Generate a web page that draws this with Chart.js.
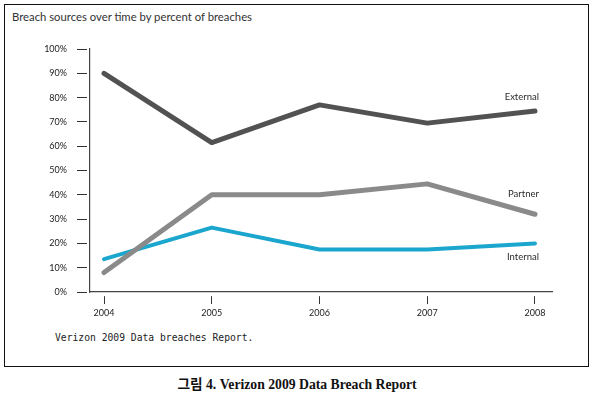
<!DOCTYPE html>
<html><head><meta charset="utf-8">
<script src="https://cdn.jsdelivr.net/npm/chart.js@4"></script>
<style>
html,body{margin:0;padding:0;background:#fff;width:594px;height:394px;overflow:hidden;}
#box{position:absolute;left:4px;top:4px;width:583px;height:361px;border:1.5px solid #111;}
#title{position:absolute;left:12px;top:10px;font:11.3px Lato,sans-serif;color:#333;white-space:nowrap;}
#src{position:absolute;left:55px;top:332px;font:9.7px "DejaVu Sans Mono",monospace;color:#222;white-space:pre;}
#cap{position:absolute;left:0;width:594px;top:373px;text-align:center;font:bold 13.7px "Liberation Serif","Noto Sans CJK KR",serif;color:#111;}
#wrap{position:absolute;left:0;top:0;width:594px;height:394px;}
</style></head>
<body>
<div id="box"></div>
<div id="title">Breach sources over time by percent of breaches</div>
<div id="src">Verizon 2009 Data breaches Report.</div>
<div id="cap">그림 4. Verizon 2009 Data Breach Report</div>
<div id="wrap"><canvas id="c" width="594" height="394"></canvas></div>
<script>
const years = [2004, 2005, 2006, 2007, 2008];
const yearLabels = ["2004", "2005", "2006", "2007", "2008"];
const seriesNames = ["External", "Partner", "Internal"];
const external = [90, 61.5, 77, 69.5, 74.5];
const partner = [8, 40, 40, 44.5, 32];
const internal = [13.5, 26.5, 17.5, 17.5, 20];
const yTicks = [0,10,20,30,40,50,60,70,80,90,100];
const yTickLabels = ["0%","10%","20%","30%","40%","50%","60%","70%","80%","90%","100%"];

const toPts = arr => arr.map((v,i)=>({x:years[i], y:v}));
const labelOffsets = {External:-14, Partner:-20, Internal:14};

const endLabels = {
  id:'endLabels',
  afterDatasetsDraw(chart){
    const ctx = chart.ctx;
    ctx.save();
    ctx.font = '9.5px Lato, sans-serif';
    ctx.fillStyle = '#2a2a2a';
    ctx.textAlign = 'right';
    ctx.textBaseline = 'middle';
    chart.data.datasets.forEach((ds,i)=>{
      const meta = chart.getDatasetMeta(i);
      const last = meta.data[meta.data.length-1];
      ctx.fillText(ds.label, last.x + 4, last.y + labelOffsets[ds.label]);
    });
    ctx.restore();
  }
};

new Chart(document.getElementById('c'), {
  type:'line',
  data:{
    datasets:[
      {label:seriesNames[0], data:toPts(external), borderColor:'#525252', borderWidth:5},
      {label:seriesNames[1], data:toPts(partner), borderColor:'#8a8a8a', borderWidth:5},
      {label:seriesNames[2], data:toPts(internal), borderColor:'#1ba6cd', borderWidth:4}
    ]
  },
  options:{
    responsive:false,
    animation:false,
    events:[],
    elements:{point:{radius:0}, line:{tension:0, borderCapStyle:'round', borderJoinStyle:'round'}},
    layout:{padding:{left:0, top:49, right:42, bottom:62}},
    plugins:{legend:{display:false}, tooltip:{enabled:false}},
    scales:{
      x:{
        type:'linear',
        min:2003.87, max:2008.158,
        afterBuildTicks(s){ s.ticks = years.map(v=>({value:v})); },
        afterFit(s){ s.height = 40; },
        ticks:{
          callback:(v)=>yearLabels[years.indexOf(v)] ?? '',
          font:{family:'Lato', size:9}, color:'#222', padding:4, maxRotation:0, autoSkip:false
        },
        grid:{drawOnChartArea:false, tickLength:12, tickColor:'#333', tickWidth:1, tickBorderDash:[0,4,8,100]},
        border:{color:'#444', width:1.2}
      },
      y:{
        min:0, max:100,
        afterBuildTicks(s){ s.ticks = yTicks.map(v=>({value:v})); },
        afterFit(s){ s.width = 90; },
        ticks:{
          callback:(v)=>yTickLabels[yTicks.indexOf(v)] ?? '',
          font:{family:'Lato', size:9}, color:'#222', padding:10
        },
        grid:{drawOnChartArea:false, tickLength:13, tickColor:'#333', tickWidth:1, tickBorderDash:[10,100]},
        border:{color:'#444', width:1.2}
      }
    }
  },
  plugins:[endLabels]
});
</script>
</body></html>
